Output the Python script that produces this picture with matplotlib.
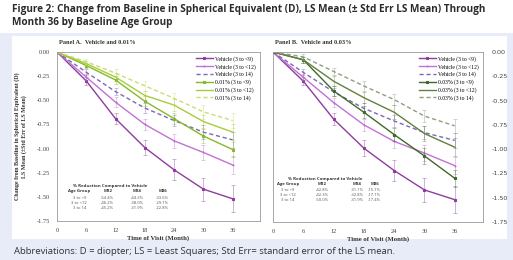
import matplotlib
matplotlib.use("Agg")
import matplotlib.pyplot as plt
from matplotlib.patches import Rectangle
from matplotlib.colors import to_rgba

W, H = 513, 260

months = [0, 6, 12, 18, 24, 30, 36]
xticks = [0, 6, 12, 18, 24, 30, 36]
yticks = [0.00, -0.25, -0.50, -0.75, -1.00, -1.25, -1.50, -1.75]

veh_lt9 = [0, -0.30, -0.69, -0.99, -1.22, -1.42, -1.52]
veh_lt12 = [0, -0.26, -0.52, -0.75, -0.92, -1.04, -1.17]
veh_14 = [0, -0.21, -0.41, -0.58, -0.71, -0.83, -0.91]
veh_lt9_se = [0, 0.04, 0.06, 0.08, 0.11, 0.12, 0.14]
veh_lt12_se = [0, 0.03, 0.05, 0.06, 0.07, 0.08, 0.09]
veh_14_se = [0, 0.03, 0.04, 0.05, 0.06, 0.07, 0.08]

a_lt9 = [0, -0.14, -0.29, -0.51, -0.69, -0.87, -1.01]
a_lt12 = [0, -0.12, -0.26, -0.45, -0.55, -0.72, -0.83]
a_14 = [0, -0.10, -0.22, -0.35, -0.48, -0.62, -0.71]
a_lt9_se = [0, 0.03, 0.04, 0.05, 0.06, 0.07, 0.08]
a_lt12_se = [0, 0.03, 0.04, 0.05, 0.06, 0.07, 0.08]
a_14_se = [0, 0.03, 0.04, 0.05, 0.06, 0.07, 0.08]

b_lt9 = [0, -0.08, -0.40, -0.62, -0.85, -1.07, -1.30]
b_lt12 = [0, -0.08, -0.30, -0.47, -0.62, -0.84, -0.98]
b_14 = [0, -0.05, -0.20, -0.35, -0.49, -0.66, -0.76]
b_lt9_se = [0, 0.03, 0.05, 0.06, 0.07, 0.08, 0.09]
b_lt12_se = [0, 0.03, 0.05, 0.06, 0.07, 0.08, 0.09]
b_14_se = [0, 0.03, 0.04, 0.05, 0.06, 0.06, 0.07]

groups = ["3 to <9", "3 to <12", "3 to 14"]
table_cols = ["Age Group", "M12", "M24", "M36"]
a_table = [["-54.4%", "-44.3%", "-33.6%"],
           ["-46.2%", "-38.0%", "-29.1%"],
           ["-45.2%", "-31.9%", "-22.8%"]]
b_table = [["-42.8%", "-31.1%", "-15.1%"],
           ["-42.3%", "-32.8%", "-17.1%"],
           ["-50.0%", "-31.9%", "-17.4%"]]

title = ("Figure 2: Change from Baseline in Spherical Equivalent (D), LS Mean (\u00b1 Std Err LS Mean) Through\n"
         "Month 36 by Baseline Age Group")
footnote = "Abbreviations: D = diopter; LS = Least Squares; Std Err= standard error of the LS mean."

SERIF = "Liberation Serif"
SANS = "Open Sans"

fig = plt.figure(figsize=(W / 100, H / 100), dpi=100)
fig.patch.set_facecolor("white")
renderer = fig.canvas.get_renderer()


def fx(x):
    return x / W


def fy(y):
    return 1 - y / H


def fit_width(txt, target_px):
    for _ in range(3):
        bb = txt.get_window_extent(renderer=renderer)
        if bb.width > 0:
            txt.set_fontsize(txt.get_fontsize() * target_px / bb.width)


# lavender frame and white inner panel
fig.add_artist(Rectangle((0, 0), 1, fy(33), transform=fig.transFigure,
                         facecolor="#e8ebf8", edgecolor="none", zorder=0))
fig.add_artist(Rectangle((fx(12), fy(239)), fx(507) - fx(12), fy(36) - fy(239),
                         transform=fig.transFigure, facecolor="white",
                         edgecolor="none", zorder=0))

t = fig.text(fx(12), fy(4), title, ha="left", va="top", fontsize=6.1,
             fontweight="bold", family=SANS, color="#2b2b2b", linespacing=1.2)
fit_width(t, 473)
f = fig.text(fx(14), fy(251), footnote, ha="left", va="center", fontsize=6.6,
             family=SANS, color="#333333")
fit_width(f, 378)

c_v9, c_v12, c_v14 = "#8e3c9e", "#c272d2", "#7b68b5"
a_cols = ["#86b92a", "#a6cc3a", "#c9dd72"]
b_cols = ["#3f6a2b", "#62803f", "#8e9e82"]


def panel(rect, drug, dser, dse, dcols, label, tbl, tpos, right):
    ax = fig.add_axes(rect)
    ax.set_facecolor("white")
    series = [
        ("Vehicle (3 to <9)", veh_lt9, veh_lt9_se, c_v9, "-", "s"),
        ("Vehicle (3 to <12)", veh_lt12, veh_lt12_se, c_v12, "-", "+"),
        ("Vehicle (3 to 14)", veh_14, veh_14_se, c_v14, "--", None),
        (f"{drug} (3 to <9)", dser[0], dse[0], dcols[0], "-", "s"),
        (f"{drug} (3 to <12)", dser[1], dse[1], dcols[1], "-", None),
        (f"{drug} (3 to 14)", dser[2], dse[2], dcols[2], "--", None),
    ]
    for name, y, se, c, ls, mk in series:
        ax.errorbar(months, y, yerr=se, fmt="none",
                    ecolor=to_rgba(c, 0.55), elinewidth=0.5,
                    capsize=1.2, capthick=0.5)
        kw = dict(dashes=(3, 2)) if ls == "--" else {}
        ax.plot(months, y, color=c, ls=ls, lw=1.0, marker=mk, ms=1.8,
                mew=0.8, label=name, **kw)
    ax.set_xlim(0, 41.6)
    ax.set_ylim(-1.75, 0)
    ax.set_xticks(xticks)
    ax.set_yticks(yticks)
    ax.set_yticklabels([f"{v:.2f}" for v in yticks])
    ax.tick_params(length=0, labelsize=4.6, pad=5, colors="#444444")
    for lab in ax.get_xticklabels() + ax.get_yticklabels():
        lab.set_family(SERIF)
    if right:
        ax.yaxis.tick_right()
        ax.tick_params(axis="y", pad=6)
    for s in ax.spines.values():
        s.set_color("#9a9a9a")
        s.set_linewidth(0.6)
    ax.set_xlabel("Time of Visit (Month)", fontsize=4.8, fontweight="bold",
                  family=SERIF, labelpad=1.5, color="#333333")
    ax.text(0.01, 1.04, label, transform=ax.transAxes, fontsize=4.6,
            fontweight="bold", family=SERIF, color="#333333", va="bottom")
    ax.legend(loc="upper right", frameon=False,
              handlelength=3.0, handletextpad=0.4, labelspacing=0.35,
              borderaxespad=0.3, prop={"family": SERIF, "size": 4.1})
    # table
    tx, ty, colx = tpos
    ax.text(tx, ty, "% Reduction Compared to Vehicle", transform=ax.transAxes,
            fontsize=3.2, fontweight="bold", family=SANS, ha="center",
            va="center", color="#333333")
    dy = 0.03
    for j, h in enumerate(table_cols):
        ax.text(colx[j], ty - dy, h, transform=ax.transAxes, fontsize=3.1,
                fontweight="bold", family=SANS, ha="center", va="center",
                color="#333333")
    for i, g in enumerate(groups):
        row = [g] + tbl[i]
        for j, v in enumerate(row):
            ax.text(colx[j], ty - dy * (i + 2) - 0.006, v,
                    transform=ax.transAxes, fontsize=3.0, family=SANS,
                    ha="center", va="center", color="#555555")
    return ax


axA = panel([fx(57), fy(221), fx(260) - fx(57), fy(52) - fy(221)], "0.01%",
            [a_lt9, a_lt12, a_14], [a_lt9_se, a_lt12_se, a_14_se], a_cols,
            "Panel A.  Vehicle and 0.01%", a_table,
            (0.26, 0.205, [0.11, 0.25, 0.395, 0.52]), False)
axA.set_ylabel("Change from Baseline in Spherical Equivalent (D)\nLS Mean (\u00b1Std Err of LS Mean)",
               fontsize=4.3, fontweight="bold", family=SERIF, labelpad=7,
               color="#333333")

axB = panel([fx(273), fy(222), fx(483) - fx(273), fy(52) - fy(222)], "0.03%",
            [b_lt9, b_lt12, b_14], [b_lt9_se, b_lt12_se, b_14_se], b_cols,
            "Panel B.  Vehicle and 0.03%", b_table,
            (0.25, 0.255, [0.07, 0.235, 0.40, 0.485]), True)

fig.savefig("out.png", dpi=100)
